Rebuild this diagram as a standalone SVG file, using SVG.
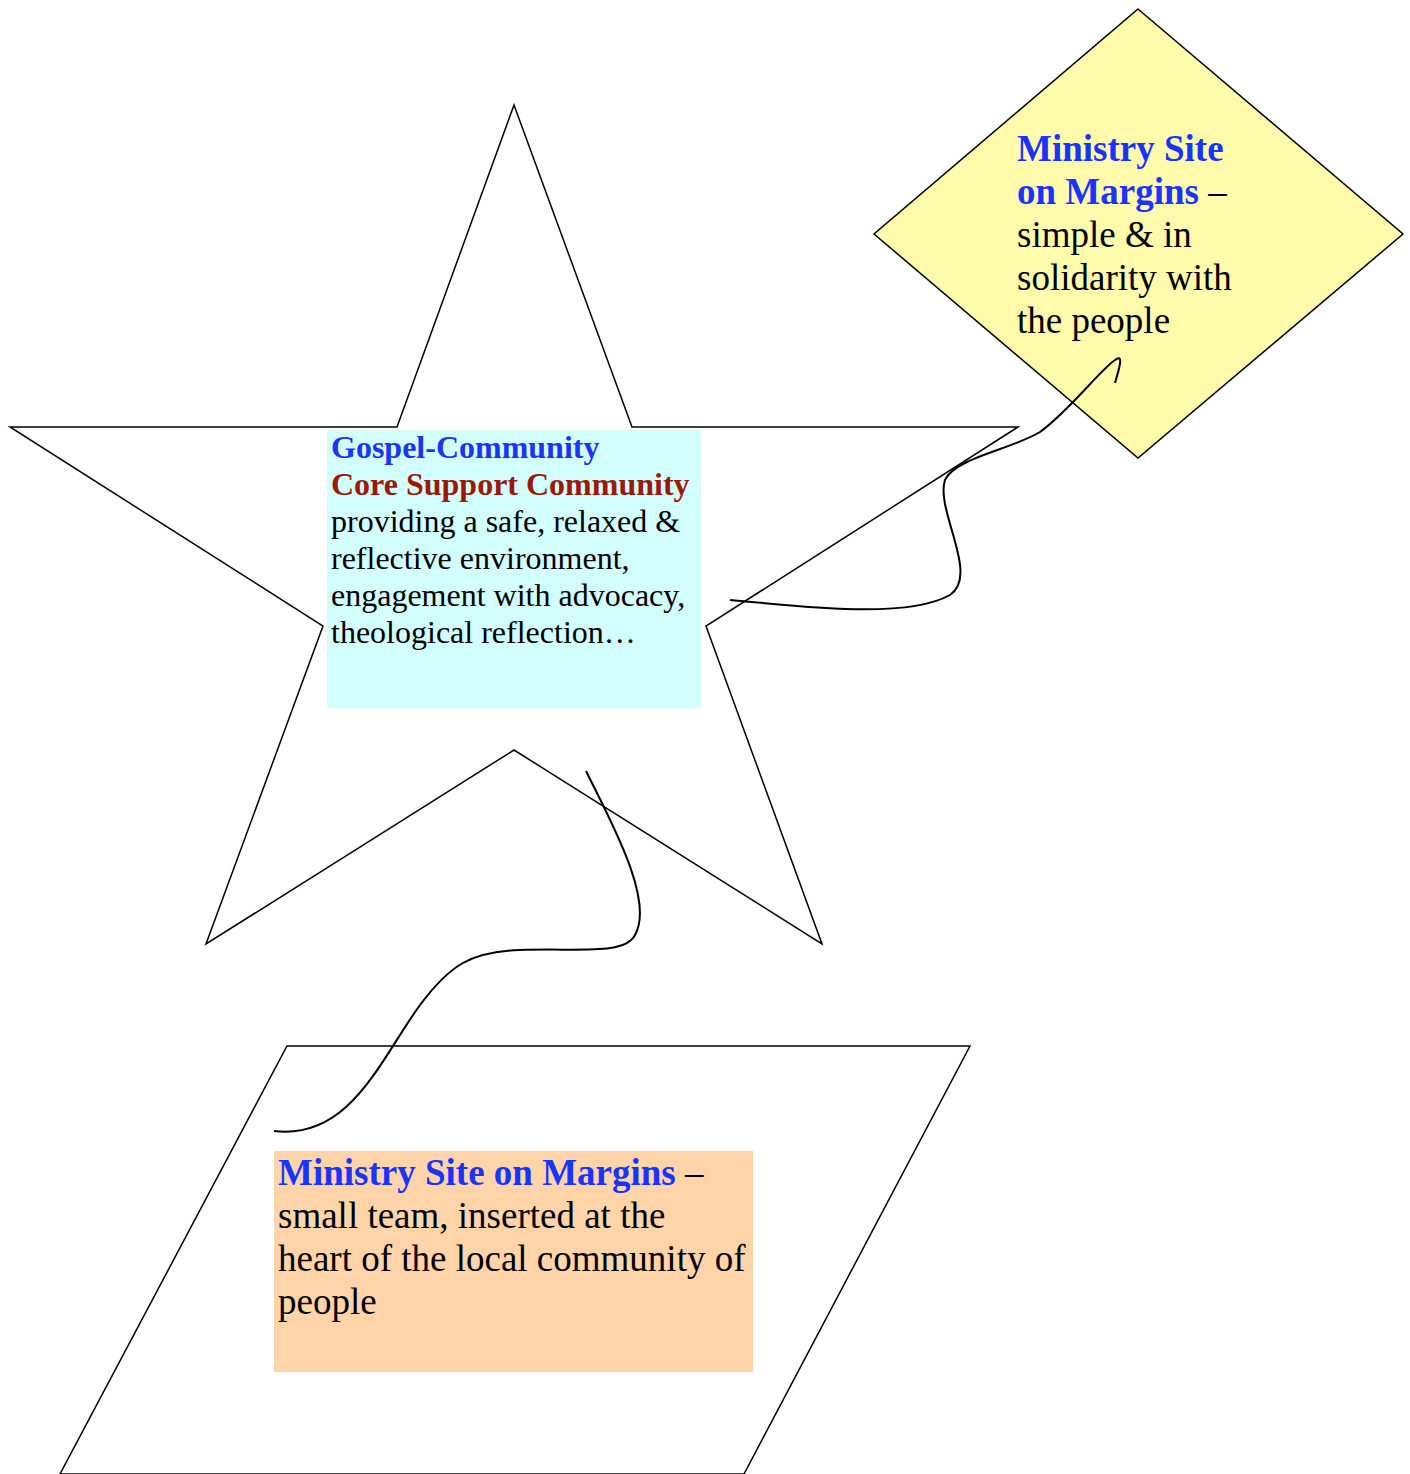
<svg xmlns="http://www.w3.org/2000/svg" width="1410" height="1474" viewBox="0 0 1410 1474">
<style>
.shape{stroke:#000;stroke-width:1.5;stroke-linejoin:miter}
.conn{fill:none;stroke:#000;stroke-width:2}
text{font-family:"Liberation Serif","Times New Roman",serif;fill:#000}
.b{font-weight:bold;fill:#1a33ff}
.r{font-weight:bold;fill:#9a1a08}
</style>
<rect width="1410" height="1474" fill="#fff"/>
<g id="star">
<polygon class="shape" fill="none" points="514,105 632,427 1018,427 706,626 822,944 514,750 206,944 323,626 10,427 397,427"/>
<rect x="327" y="430" width="374" height="278" fill="#d2fefe"/>
<text font-size="32"><tspan x="331" y="458" class="b">Gospel-Community</tspan><tspan x="331" y="495" class="r">Core Support Community</tspan><tspan x="331" y="532">providing a safe, relaxed &amp;</tspan><tspan x="331" y="569">reflective environment,</tspan><tspan x="331" y="606">engagement with advocacy,</tspan><tspan x="331" y="643">theological reflection…</tspan></text>
</g>
<g id="diamond">
<polygon class="shape" fill="#fffbaa" points="1138,9 1403,234 1138,458 874,234"/>
<text font-size="37"><tspan x="1017" y="161" class="b">Ministry Site</tspan><tspan x="1017" y="204"><tspan class="b">on Margins</tspan> –</tspan><tspan x="1017" y="247">simple &amp; in</tspan><tspan x="1017" y="290">solidarity with</tspan><tspan x="1017" y="333">the people</tspan></text>
</g>
<g id="parallelogram">
<polygon class="shape" fill="none" points="287,1046 970,1046 744,1474 60,1474"/>
<rect x="274" y="1151" width="479" height="221" fill="#fed4a8"/>
<text font-size="37"><tspan x="278" y="1185"><tspan class="b">Ministry Site on Margins</tspan> –</tspan><tspan x="278" y="1228">small team, inserted at the</tspan><tspan x="278" y="1271">heart of the local community of</tspan><tspan x="278" y="1314">people</tspan></text>
</g>
<g id="connectors">
<path class="conn" d="M730,600 C800,606 905,620 950,595 C980,575 935,510 945,480 C955,458 1010,450 1040,432 C1070,410 1100,370 1115,360 C1125,352 1118,372 1115,383"/>
<path class="conn" d="M586,771 C610,820 655,900 635,935 C625,955 580,948 520,950 C470,952 450,965 420,1005 C380,1060 350,1140 274,1131"/>
</g>
</svg>
